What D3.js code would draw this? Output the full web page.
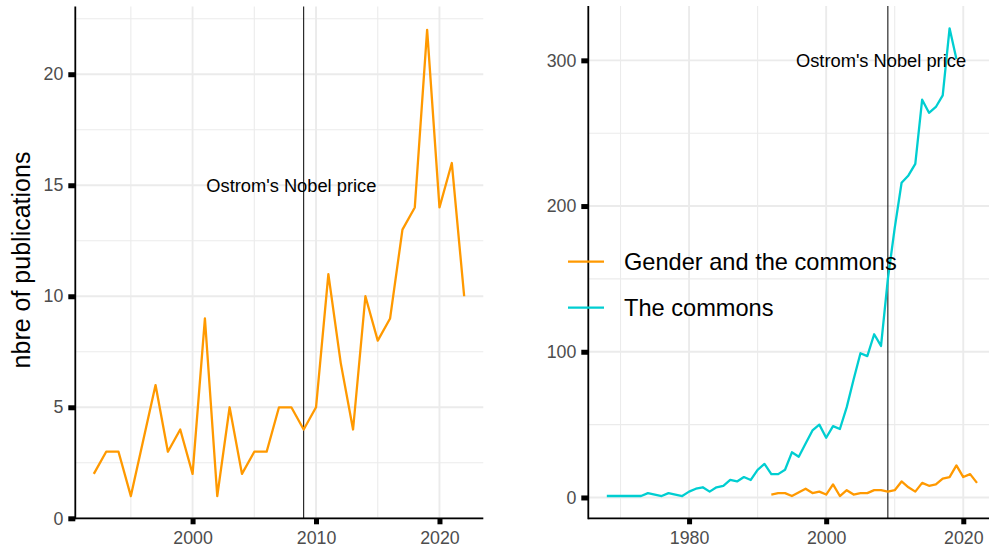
<!DOCTYPE html>
<html>
<head>
<meta charset="utf-8">
<script src="https://cdnjs.cloudflare.com/ajax/libs/d3/7.8.5/d3.min.js"></script>
<style>
  body { margin: 0; background: #fff; }
  text { font-family: "Liberation Sans", Arial, sans-serif; }
</style>
</head>
<body>
<div id="chart"></div>
<script>
// gender and the commons (no 1996 in the data)
const genderYears = [1992, 1993, 1994, 1995, 1997, 1998, 1999, 2000, 2001, 2002, 2003, 2004, 2005, 2006,
  2007, 2008, 2009, 2010, 2011, 2012, 2013, 2014, 2015, 2016, 2017, 2018, 2019, 2020, 2021, 2022];
const genderPubs = [2, 3, 3, 1, 6, 3, 4, 2, 9, 1, 5, 2, 3, 3,
  5, 5, 4, 5, 11, 7, 4, 10, 8, 9, 13, 14, 22, 14, 16, 10];

// the commons
const commonsYears = d3.range(1968, 2020);
const commonsPubs = [1, 1, 1, 1, 1, 1, 3, 2, 1, 3, 2, 1, 4, 6, 7, 4, 7, 8, 12, 11, 14, 12,
  19, 23, 16, 16, 19, 31, 28, 37, 46, 50, 41, 49, 47, 62, 81, 99, 97, 112, 104,
  150, 185, 216, 221, 229, 273, 264, 268, 276, 322, 301];

const nobelYear = 2009;
const nobelLabel = "Ostrom's Nobel price";
const seriesNames = ["Gender and the commons", "The commons"];
const seriesColors = ["#FF9900", "#00CED1"];

const leftXTicks = [2000, 2010, 2020];
const leftYTicks = [0, 5, 10, 15, 20];
const rightXTicks = [1980, 2000, 2020];
const rightYTicks = [0, 100, 200, 300];

const gender = genderYears.map(function (y, i) { return { year: y, n: genderPubs[i] }; });
const commons = commonsYears.map(function (y, i) { return { year: y, n: commonsPubs[i] }; });

var width = 989, height = 552;
var svg = d3.select("#chart").append("svg")
  .attr("width", width)
  .attr("height", height);

var gridCol = "#EBEBEB";

function panel(opt) {
  var x = d3.scaleLinear().domain(opt.xDomain).range([opt.left, opt.right]);
  var y = d3.scaleLinear().domain(opt.yDomain).range([opt.bottom, opt.top]);
  var g = svg.append("g");

  // minor grid
  g.selectAll(".gxm").data(opt.xMinor).enter().append("line")
    .attr("x1", d => x(d)).attr("x2", d => x(d))
    .attr("y1", opt.top).attr("y2", opt.bottom)
    .attr("stroke", gridCol).attr("stroke-width", 1.1);
  g.selectAll(".gym").data(opt.yMinor).enter().append("line")
    .attr("x1", opt.left).attr("x2", opt.right)
    .attr("y1", d => y(d)).attr("y2", d => y(d))
    .attr("stroke", gridCol).attr("stroke-width", 1.1);
  // major grid
  g.selectAll(".gx").data(opt.xTicks).enter().append("line")
    .attr("x1", d => x(d)).attr("x2", d => x(d))
    .attr("y1", opt.top).attr("y2", opt.bottom)
    .attr("stroke", gridCol).attr("stroke-width", 1.9);
  g.selectAll(".gy").data(opt.yTicks).enter().append("line")
    .attr("x1", opt.left).attr("x2", opt.right)
    .attr("y1", d => y(d)).attr("y2", d => y(d))
    .attr("stroke", gridCol).attr("stroke-width", 1.9);

  // nobel line
  g.append("line")
    .attr("x1", x(nobelYear)).attr("x2", x(nobelYear))
    .attr("y1", opt.top).attr("y2", opt.bottom)
    .attr("stroke", "#000").attr("stroke-width", 1);

  var line = d3.line().x(d => x(d.year)).y(d => y(d.n));
  opt.series.forEach(function (s) {
    g.append("path")
      .datum(s.data)
      .attr("d", line)
      .attr("fill", "none")
      .attr("stroke", s.color)
      .attr("stroke-width", 2.3)
      .attr("stroke-linejoin", "round");
  });

  g.append("text")
    .attr("x", x(opt.labelAt[0])).attr("y", y(opt.labelAt[1]))
    .attr("text-anchor", "middle").attr("dy", "0.35em")
    .attr("font-size", 18.3).attr("fill", "#000")
    .text(nobelLabel);

  // axes
  var xAxis = g.append("g")
    .attr("transform", "translate(0," + opt.bottom + ")")
    .call(d3.axisBottom(x).tickValues(opt.xTicks).tickFormat(d3.format("d")).tickSize(6).tickPadding(7));
  var yAxis = g.append("g")
    .attr("transform", "translate(" + opt.left + ",0)")
    .call(d3.axisLeft(y).tickValues(opt.yTicks).tickSize(7).tickPadding(5));
  [xAxis, yAxis].forEach(function (a) {
    a.select(".domain").remove();
    a.selectAll(".tick line").attr("stroke", "#000").attr("stroke-width", 5);
    a.selectAll(".tick text").attr("fill", "#4D4D4D").attr("font-size", 17.8)
      .style("font-family", "Liberation Sans, Arial, sans-serif");
  });
  g.append("line").attr("x1", opt.left).attr("x2", opt.right)
    .attr("y1", opt.bottom).attr("y2", opt.bottom)
    .attr("stroke", "#000").attr("stroke-width", 1.8);
  g.append("line").attr("x1", opt.left).attr("x2", opt.left)
    .attr("y1", opt.top).attr("y2", opt.bottom + 0.9)
    .attr("stroke", "#000").attr("stroke-width", 1.8);
  return { x: x, y: y };
}

// left panel: gender and the commons only
panel({
  left: 75.3, right: 483.3, top: 6.5, bottom: 518.3,
  xDomain: [1990.5, 2023.55], yDomain: [0, 23.05],
  xTicks: leftXTicks, xMinor: [1995, 2005, 2015],
  yTicks: leftYTicks, yMinor: [2.5, 7.5, 12.5, 17.5, 22.5],
  series: [{ data: gender, color: seriesColors[0] }],
  labelAt: [2008, 15]
});

// right panel: both series
panel({
  left: 588.3, right: 995.5, top: 6, bottom: 518.3,
  xDomain: [1965.3, 2024.7], yDomain: [-14.3, 337.3],
  xTicks: rightXTicks, xMinor: [1970, 1990, 2010],
  yTicks: rightYTicks, yMinor: [50, 150, 250],
  series: [{ data: gender, color: seriesColors[0] }, { data: commons, color: seriesColors[1] }],
  labelAt: [2008, 300]
});

// y title
svg.append("text")
  .attr("transform", "translate(30,260) rotate(-90)")
  .attr("text-anchor", "middle")
  .attr("font-size", 25).attr("fill", "#000")
  .text("nbre of publications");

// legend (inside right panel)
var leg = svg.append("g");
seriesNames.forEach(function (name, i) {
  var cy = 261.7 + i * 46;
  leg.append("line")
    .attr("x1", 568).attr("x2", 604).attr("y1", cy).attr("y2", cy)
    .attr("stroke", seriesColors[i]).attr("stroke-width", 2.3);
  leg.append("text")
    .attr("x", 624).attr("y", cy).attr("dy", "0.36em")
    .attr("font-size", 23.6).attr("fill", "#000")
    .text(name);
});
</script>
</body>
</html>
